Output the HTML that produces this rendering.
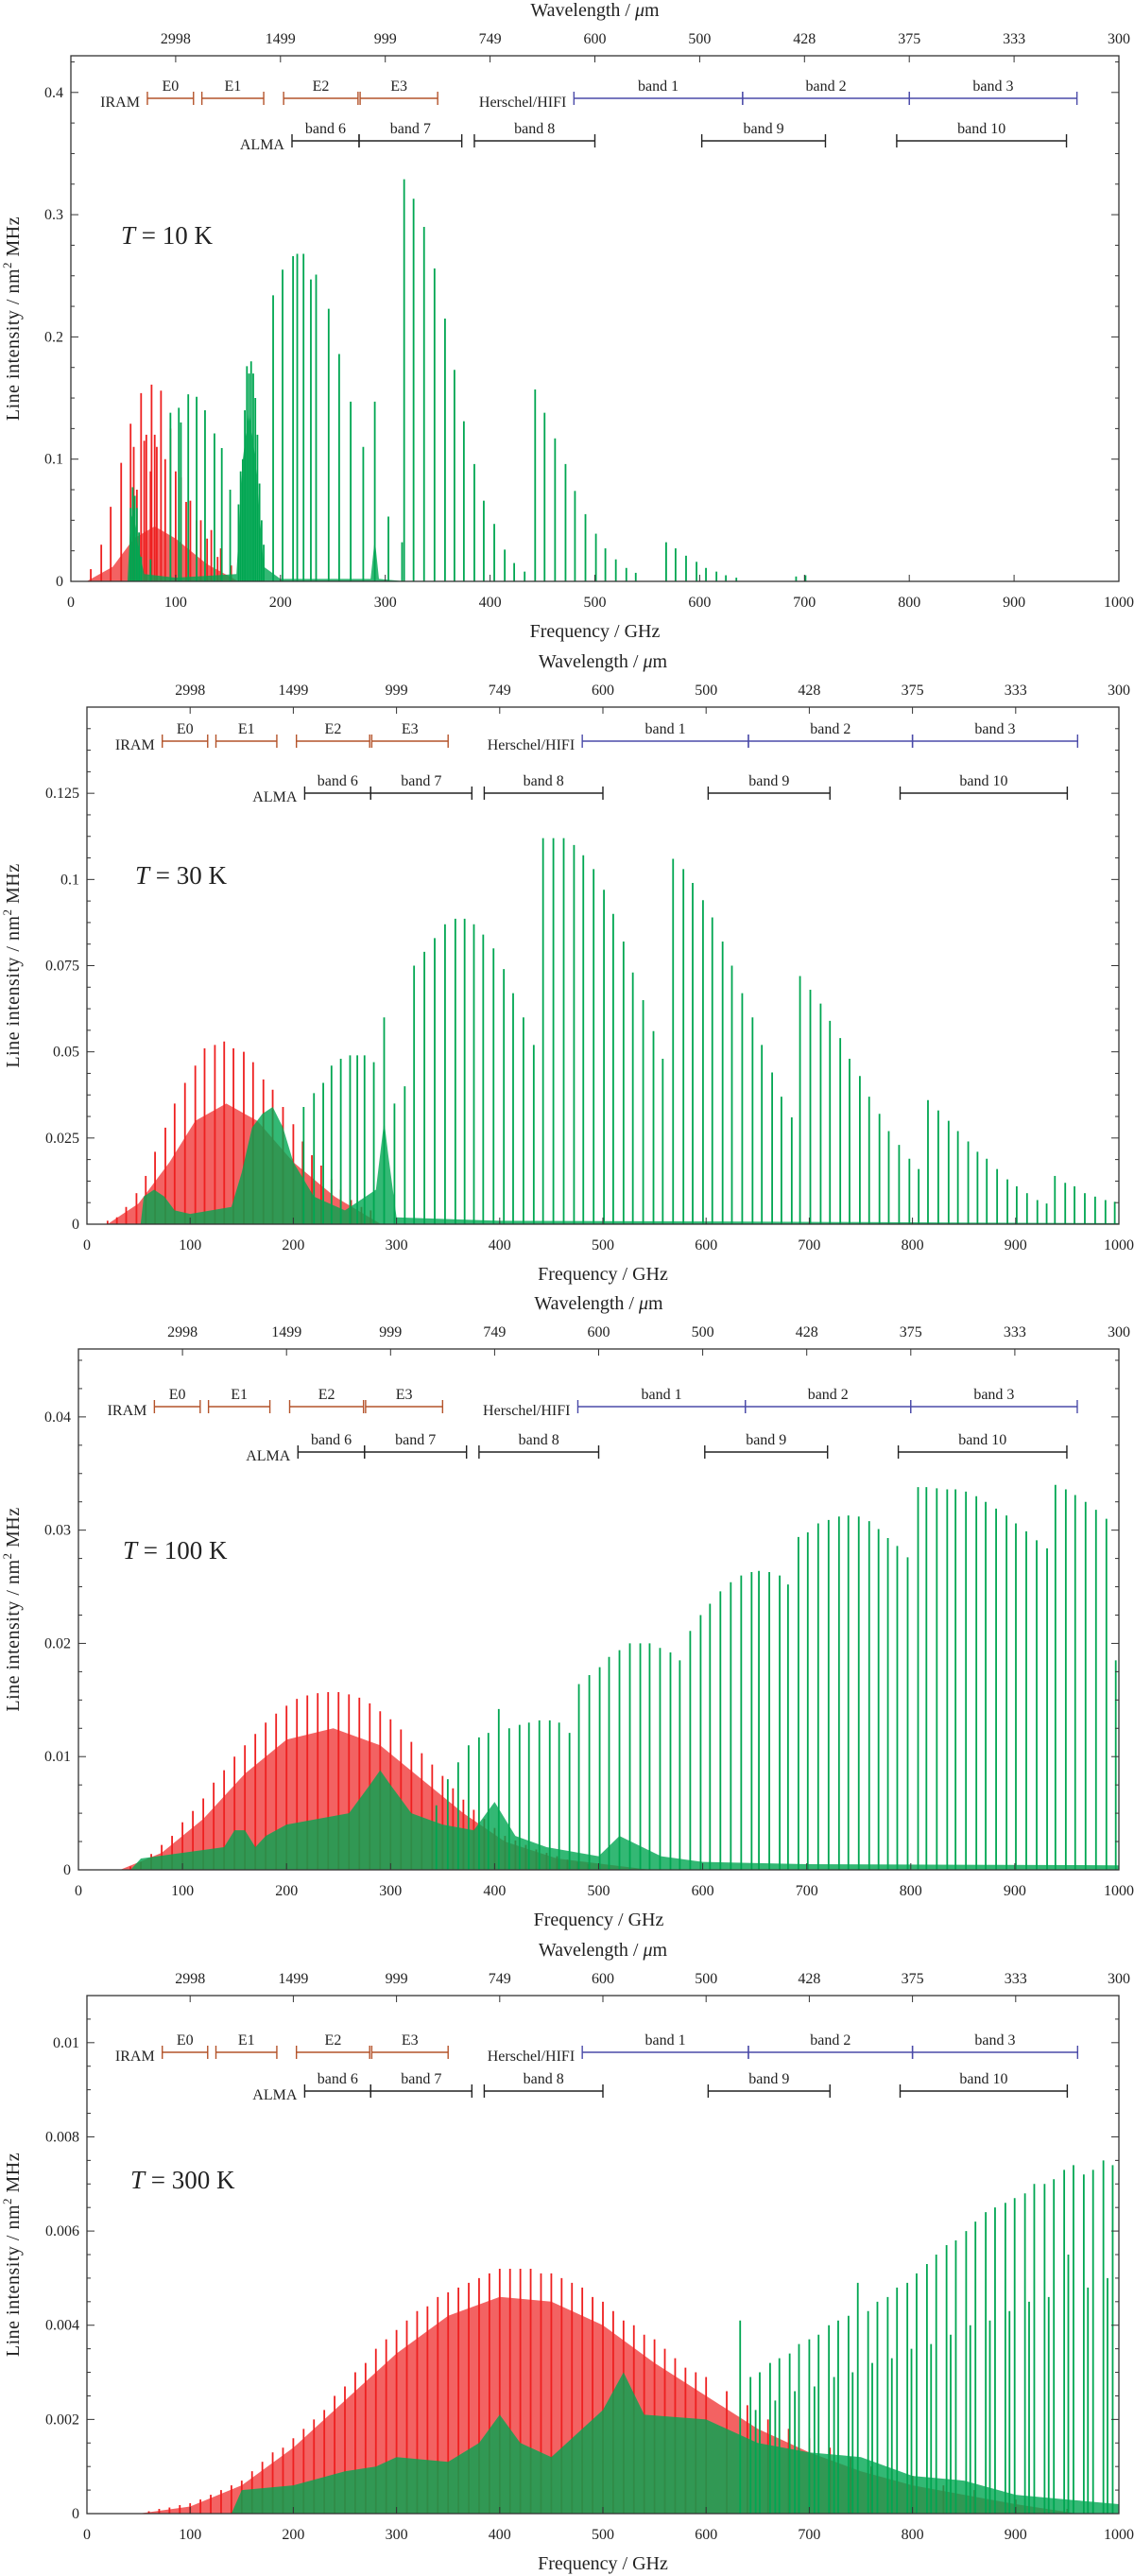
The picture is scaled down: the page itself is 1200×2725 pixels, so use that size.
<!DOCTYPE html>
<html><head><meta charset="utf-8"><title>Line intensity spectra</title>
<style>
html,body{margin:0;padding:0;background:#fff;}
svg{display:block;}
text{font-family:"Liberation Serif",serif;fill:#222;}
</style></head>
<body>
<svg id="chart" xmlns="http://www.w3.org/2000/svg" width="1200" height="2725" viewBox="0 0 1200 2725"></svg>
<script>
// ---------- DATA (frequency GHz, intensity nm^2 MHz) ----------
const freqTicks = [0,100,200,300,400,500,600,700,800,900,1000];
const waveTickFreqs = [100,200,300,400,500,600,700,800,900,1000];
const waveTickLabels = ["2998","1499","999","749","600","500","428","375","333","300"];
const iramBands = [["E0",73,117],["E1",125,184],["E2",203,274],["E3",276,350]];
const hifiBands = [["band 1",480,641],["band 2",641,800],["band 3",800,960]];
const almaBands = [["band 6",211,275],["band 7",275,373],["band 8",385,500],["band 9",602,720],["band 10",788,950]];

// Panel 1 : T = 10 K
const p1Red = [[19,0.010],[29,0.030],[38,0.061],[48,0.097],[57,0.129],[60,0.11],[63,0.075],[67,0.154],[70,0.115],[72,0.12],[76,0.09],[77,0.161],[80,0.12],[82,0.11],[86,0.156],[90,0.10],[95,0.125],[100,0.09],[105,0.085],[110,0.065],[114,0.066],[120,0.05],[124,0.05],[130,0.035],[134,0.042],[140,0.02],[143,0.027],[153,0.013]];
const p1Green = [[57,0.06],[59,0.077],[61,0.07],[63,0.06],[65,0.04],[67,0.02],[76,0.018],[95,0.138],[103,0.142],[105,0.13],[112,0.153],[120,0.151],[128,0.140],[137,0.121],[144,0.109],[152,0.075],[160,0.063],[162,0.09],[164,0.10],[166,0.14],[168,0.176],[170,0.17],[172,0.18],[174,0.17],[176,0.15],[178,0.12],[180,0.08],[182,0.05],[184,0.03],[193,0.234],[202,0.255],[212,0.266],[216,0.268],[222,0.268],[229,0.247],[234,0.251],[246,0.223],[256,0.186],[267,0.147],[279,0.110],[290,0.147],[303,0.053],[316,0.032],[318,0.329],[327,0.313],[337,0.290],[347,0.256],[357,0.215],[366,0.173],[375,0.131],[385,0.096],[394,0.066],[404,0.047],[414,0.026],[423,0.015],[433,0.008],[443,0.157],[452,0.138],[462,0.117],[472,0.096],[481,0.074],[491,0.055],[501,0.039],[510,0.027],[520,0.018],[530,0.011],[539,0.007],[568,0.032],[577,0.027],[587,0.021],[597,0.016],[606,0.011],[616,0.008],[625,0.005],[635,0.003],[692,0.004],[701,0.005]];
const p1RedEnv = [[15,0],[40,0.012],[60,0.035],[80,0.045],[100,0.035],[130,0.014],[160,0]];
const p1GreenEnv = [[54,0],[57,0.05],[60,0.06],[64,0.03],[70,0.006],[100,0.003],[158,0.006],[164,0.10],[170,0.14],[176,0.10],[184,0.012],[200,0.002],[286,0.002],[290,0.035],[294,0.002],[320,0]];

// Panel 2 : T = 30 K
const p2Red = [[20,0.001],[29,0.002],[38,0.005],[48,0.009],[57,0.014],[66,0.021],[76,0.028],[85,0.035],[95,0.041],[105,0.046],[114,0.051],[124,0.052],[133,0.053],[142,0.051],[152,0.050],[161,0.047],[171,0.042],[180,0.039],[190,0.034],[200,0.029],[209,0.024],[218,0.020],[227,0.017],[237,0.013],[246,0.010],[256,0.007],[266,0.005],[275,0.004]];
const p2Green = [[210,0.034],[220,0.038],[229,0.041],[237,0.046],[246,0.048],[255,0.049],[262,0.049],[269,0.049],[278,0.047],[288,0.060],[298,0.035],[308,0.040],[317,0.075],[327,0.079],[337,0.083],[347,0.087],[357,0.0886],[366,0.0886],[375,0.087],[384,0.084],[394,0.080],[404,0.074],[413,0.067],[423,0.060],[433,0.052],[442,0.112],[452,0.112],[462,0.112],[472,0.110],[481,0.107],[491,0.103],[501,0.097],[510,0.090],[520,0.082],[529,0.073],[539,0.065],[549,0.056],[558,0.048],[568,0.106],[578,0.103],[587,0.099],[597,0.094],[606,0.089],[616,0.082],[625,0.075],[635,0.067],[645,0.060],[654,0.052],[664,0.044],[673,0.037],[683,0.031],[691,0.072],[701,0.068],[711,0.064],[720,0.059],[730,0.054],[739,0.048],[749,0.043],[758,0.037],[768,0.032],[777,0.027],[787,0.023],[797,0.019],[806,0.016],[815,0.036],[825,0.033],[835,0.030],[844,0.027],[854,0.024],[863,0.021],[872,0.019],[882,0.016],[892,0.013],[901,0.011],[911,0.009],[921,0.007],[930,0.006],[938,0.014],[948,0.012],[957,0.011],[967,0.009],[977,0.008],[987,0.007],[996,0.0065]];
const p2RedEnv = [[20,0],[50,0.006],[80,0.018],[105,0.03],[135,0.035],[165,0.03],[200,0.018],[240,0.008],[285,0]];
const p2GreenEnv = [[52,0],[55,0.008],[65,0.010],[75,0.008],[85,0.004],[100,0.003],[140,0.005],[150,0.015],[160,0.028],[170,0.032],[180,0.034],[190,0.028],[200,0.018],[220,0.008],[250,0.004],[280,0.01],[288,0.03],[292,0.02],[300,0.002],[400,0.001],[600,0.0008],[1000,0.0003]];

// Panel 3 : T = 100 K
const p3Red = [[50,0.0003],[60,0.0007],[70,0.0014],[80,0.0022],[90,0.003],[100,0.0042],[110,0.0052],[120,0.0063],[130,0.0077],[140,0.0088],[150,0.010],[160,0.011],[170,0.012],[180,0.013],[190,0.0138],[200,0.0145],[210,0.0151],[220,0.0154],[230,0.0156],[240,0.0157],[250,0.0157],[260,0.0155],[270,0.0152],[280,0.0147],[290,0.014],[300,0.0133],[310,0.0124],[320,0.0113],[330,0.0103],[340,0.0093],[350,0.0083],[360,0.0072],[370,0.0062],[380,0.0053],[390,0.0045],[400,0.0037],[410,0.003],[420,0.0026],[430,0.0022],[440,0.0018],[450,0.0015],[460,0.0012],[470,0.0009],[480,0.0007],[490,0.0005],[500,0.0004],[520,0.0002]];
const p3Green = [[344,0.0057],[355,0.008],[365,0.0095],[375,0.011],[385,0.0117],[394,0.0121],[404,0.0142],[414,0.0125],[424,0.0128],[433,0.013],[443,0.0132],[453,0.0132],[462,0.013],[472,0.0121],[481,0.0164],[491,0.0172],[501,0.0179],[510,0.0188],[520,0.0194],[530,0.020],[540,0.020],[549,0.020],[559,0.0196],[569,0.0192],[578,0.0185],[588,0.0211],[598,0.0225],[607,0.0235],[617,0.0246],[627,0.0254],[637,0.026],[647,0.0263],[654,0.0264],[664,0.0263],[674,0.026],[682,0.0252],[692,0.0294],[701,0.0298],[711,0.0306],[721,0.0309],[731,0.0312],[740,0.0313],[750,0.0312],[760,0.0308],[769,0.0301],[778,0.0293],[787,0.0286],[797,0.0276],[807,0.0338],[815,0.0338],[825,0.0337],[835,0.0336],[843,0.0336],[853,0.0334],[863,0.033],[872,0.0325],[882,0.0319],[892,0.0313],[901,0.0306],[911,0.0299],[921,0.0291],[931,0.0284],[939,0.034],[949,0.0336],[958,0.0331],[968,0.0325],[978,0.0318],[988,0.031],[997,0.0185]];
const p3RedEnv = [[40,0],[80,0.0015],[120,0.0045],[160,0.0085],[200,0.0115],[245,0.0125],[290,0.011],[330,0.008],[370,0.005],[410,0.0025],[460,0.001],[550,0]];
const p3GreenEnv = [[50,0],[60,0.001],[100,0.0015],[140,0.002],[150,0.0035],[160,0.0035],[170,0.002],[180,0.003],[200,0.004],[230,0.0045],[260,0.005],[280,0.0075],[290,0.0088],[300,0.0075],[320,0.005],[350,0.004],[380,0.0035],[400,0.006],[420,0.003],[450,0.002],[500,0.0012],[520,0.003],[560,0.0012],[600,0.0007],[700,0.0005],[1000,0.0004]];

// Panel 4 : T = 300 K
const p4Red = [[60,0.00005],[70,0.0001],[80,0.00013],[90,0.00018],[100,0.00022],[110,0.0003],[120,0.0004],[130,0.0005],[140,0.0006],[150,0.0007],[160,0.0009],[170,0.0011],[180,0.0013],[190,0.0014],[200,0.0016],[210,0.0018],[220,0.002],[230,0.0022],[240,0.0025],[250,0.0027],[260,0.003],[270,0.0032],[280,0.0035],[290,0.0037],[300,0.0039],[310,0.0041],[320,0.0043],[330,0.0044],[340,0.0046],[350,0.0047],[360,0.0048],[370,0.0049],[380,0.005],[390,0.0051],[400,0.0052],[410,0.0052],[420,0.0052],[430,0.0052],[440,0.0051],[450,0.0051],[460,0.005],[470,0.0049],[480,0.0048],[490,0.0046],[500,0.0045],[510,0.0043],[520,0.0041],[530,0.004],[540,0.0038],[550,0.0037],[560,0.0035],[570,0.0033],[580,0.0031],[590,0.003],[600,0.0029],[620,0.0026],[640,0.0023],[660,0.002],[680,0.0018],[700,0.0016],[720,0.0014],[740,0.0012],[760,0.001],[780,0.0009],[800,0.0008],[830,0.0006],[860,0.0005],[900,0.0003],[950,0.0001]];
const p4Green = [[633,0.0041],[643,0.0029],[652,0.003],[662,0.0032],[671,0.0033],[681,0.0034],[690,0.0036],[700,0.0037],[709,0.0038],[719,0.004],[728,0.0041],[738,0.0042],[747,0.0049],[757,0.0043],[766,0.0045],[776,0.0046],[785,0.0048],[795,0.0049],[804,0.0051],[814,0.0053],[823,0.0055],[833,0.0057],[842,0.0058],[852,0.006],[861,0.0062],[871,0.0064],[880,0.0065],[890,0.0066],[899,0.0067],[909,0.0068],[918,0.007],[928,0.0070],[937,0.0071],[947,0.0073],[956,0.0074],[966,0.0072],[975,0.0073],[985,0.0075],[994,0.0074]];
const p4GreenB = [[648,0.0022],[667,0.0024],[686,0.0026],[705,0.0027],[724,0.0029],[742,0.003],[761,0.0032],[780,0.0033],[799,0.0035],[818,0.0036],[837,0.0038],[856,0.004],[875,0.0041],[894,0.0043],[913,0.0045],[932,0.0046],[951,0.0055],[970,0.0048],[989,0.005]];
const p4RedEnv = [[50,0],[100,0.00015],[150,0.0006],[200,0.0014],[250,0.0024],[300,0.0034],[350,0.0042],[400,0.0046],[450,0.0045],[500,0.004],[550,0.0032],[600,0.0025],[650,0.0018],[700,0.0013],[750,0.0009],[800,0.0006],[850,0.0004],[900,0.0002],[960,0]];
const p4GreenEnv = [[140,0],[150,0.0005],[200,0.0006],[250,0.0009],[280,0.001],[300,0.0012],[350,0.0011],[380,0.0015],[400,0.0021],[420,0.0015],[450,0.0012],[500,0.0022],[520,0.003],[540,0.0021],[600,0.002],[650,0.0015],[700,0.0013],[750,0.0012],[800,0.0008],[850,0.0007],[900,0.0004],[950,0.0003],[1000,0.0002]];

// ---------- LAYOUT ----------
const panels = [
 {id:"t10", label:"10", left:75, right:1184, top:59, bottom:615, ymax:0.43, yticks:[0,0.1,0.2,0.3,0.4], ylabels:["0","0.1","0.2","0.3","0.4"], iramY:45, almaY:90, tx:128, ty:258, red:p1Red, green:[p1Green], redEnv:p1RedEnv, greenEnv:p1GreenEnv},
 {id:"t30", label:"30", left:92, right:1184, top:748, bottom:1295, ymax:0.15, yticks:[0,0.025,0.05,0.075,0.1,0.125], ylabels:["0","0.025","0.05","0.075","0.1","0.125"], iramY:36, almaY:91, tx:143, ty:935, red:p2Red, green:[p2Green], redEnv:p2RedEnv, greenEnv:p2GreenEnv},
 {id:"t100", label:"100", left:83, right:1184, top:1427, bottom:1978, ymax:0.046, yticks:[0,0.01,0.02,0.03,0.04], ylabels:["0","0.01","0.02","0.03","0.04"], iramY:61, almaY:109, tx:130, ty:1649, red:p3Red, green:[p3Green], redEnv:p3RedEnv, greenEnv:p3GreenEnv},
 {id:"t300", label:"300", left:92, right:1184, top:2111, bottom:2659, ymax:0.011, yticks:[0,0.002,0.004,0.006,0.008,0.01], ylabels:["0","0.002","0.004","0.006","0.008","0.01"], iramY:60, almaY:101, tx:138, ty:2315, red:p4Red, green:[p4Green,p4GreenB], redEnv:p4RedEnv, greenEnv:p4GreenEnv}
];

const NS = "http://www.w3.org/2000/svg";
const svg = document.getElementById("chart");
function mk(tag, attrs, parent, txt){
  const e = document.createElementNS(NS, tag);
  for (const k in attrs) e.setAttribute(k, attrs[k]);
  if (txt !== undefined) e.textContent = txt;
  parent.appendChild(e);
  return e;
}
const RED = "#ee2020", GREEN = "#00a651";

panels.forEach(function(p){
  const g = mk("g", {}, svg);
  
  
  const xS = f => p.left + (f/1000)*(p.right-p.left);
  const yS = v => p.bottom - (v/p.ymax)*(p.bottom-p.top);
  const cx = (p.left+p.right)/2, cy = (p.top+p.bottom)/2;

  function envPath(env, color, op, name){
    let d = "M" + xS(env[0][0]).toFixed(1) + "," + p.bottom;
    env.forEach(pt => { d += " L" + xS(pt[0]).toFixed(1) + "," + yS(pt[1]).toFixed(1); });
    d += " L" + xS(env[env.length-1][0]).toFixed(1) + "," + p.bottom + " Z";
    const e = mk("path", {d:d, fill:color, "fill-opacity":op, stroke:"none"}, g);
    
    
  }
  envPath(p.redEnv, RED, 0.7, 'red-weak-line-forest');

  const rg = mk("g", {stroke:RED, "stroke-width":1.8}, g);
  
  
  p.red.forEach(function(pt){
    const l = mk("line", {x1:xS(pt[0]), x2:xS(pt[0]), y1:p.bottom, y2:yS(pt[1])}, rg);
    
    
  });
  envPath(p.greenEnv, GREEN, 0.8, 'green-weak-line-forest');
  const gg = mk("g", {stroke:GREEN, "stroke-width":1.8}, g);
  
  
  p.green.forEach(function(arr){
    arr.forEach(function(pt){
      const l = mk("line", {x1:xS(pt[0]), x2:xS(pt[0]), y1:p.bottom, y2:yS(pt[1])}, gg);
      
      
    });
  });

  const fr = mk("rect", {x:p.left, y:p.top, width:p.right-p.left, height:p.bottom-p.top, fill:"none", stroke:"#333", "stroke-width":1.3}, g);
  
  

  freqTicks.forEach(function(f){
    const x = xS(f);
    mk("line", {x1:x, x2:x, y1:p.bottom, y2:p.bottom-7, stroke:"#333", "stroke-width":1}, g);
    const t = mk("text", {x:x, y:p.bottom+27, "text-anchor":"middle", "font-size":16}, g, String(f));
    
    
  });
  waveTickFreqs.forEach(function(f, i){
    const x = xS(f);
    mk("line", {x1:x, x2:x, y1:p.top, y2:p.top+7, stroke:"#333", "stroke-width":1}, g);
    const t = mk("text", {x:x, y:p.top-13, "text-anchor":"middle", "font-size":16}, g, waveTickLabels[i]);
    
    
  });
  const step = p.yticks[1];
  for (let v = 0; v <= p.ymax + 1e-12; v += step/4) {
    const y = yS(v);
    const major = Math.abs(v/step - Math.round(v/step)) < 1e-6;
    const len = major ? 8 : 4;
    mk("line", {x1:p.left, x2:p.left+len, y1:y, y2:y, stroke:"#333", "stroke-width":1}, g);
    mk("line", {x1:p.right, x2:p.right-len, y1:y, y2:y, stroke:"#333", "stroke-width":1}, g);
  }
  p.yticks.forEach(function(v, i){
    const t = mk("text", {x:p.left-8, y:yS(v)+5, "text-anchor":"end", "font-size":16}, g, p.ylabels[i]);
    
    
  });
  let t = mk("text", {x:cx, y:p.bottom+59, "text-anchor":"middle", "font-size":20}, g, "Frequency / GHz");
  
  
  t = mk("text", {x:cx, y:p.top-42, "text-anchor":"middle", "font-size":20}, g);
  
  
  mk("tspan", {}, t, "Wavelength / ");
  mk("tspan", {"font-style":"italic"}, t, "μ");
  mk("tspan", {}, t, "m");
  t = mk("text", {x:0, y:0, "text-anchor":"middle", "font-size":20, transform:"translate(20," + cy + ") rotate(-90)", "letter-spacing":"0.5"}, g);
  
  
  mk("tspan", {}, t, "Line intensity / nm");
  mk("tspan", {"font-size":13, dy:-8}, t, "2");
  mk("tspan", {dy:8}, t, " MHz");
  t = mk("text", {x:p.tx, y:p.ty, "font-size":27}, g);
  
  
  mk("tspan", {"font-style":"italic"}, t, "T");
  mk("tspan", {}, t, " = " + p.label + " K");

  function bands(list, yOff, color, name, groupLabel, labelFreq){
    const y = p.top + yOff;
    const bg = mk("g", {}, g);
    
    
    list.forEach(function(b){
      const x1 = xS(b[1]), x2 = xS(b[2]);
      mk("line", {x1:x1, x2:x2, y1:y, y2:y, stroke:color, "stroke-width":1.4}, bg);
      mk("line", {x1:x1, x2:x1, y1:y-7, y2:y+7, stroke:color, "stroke-width":1.4}, bg);
      mk("line", {x1:x2, x2:x2, y1:y-7, y2:y+7, stroke:color, "stroke-width":1.4}, bg);
      const lt = mk("text", {x:(x1+x2)/2, y:y-8, "text-anchor":"middle", "font-size":16}, bg, b[0]);
      
      
    });
    const gl = mk("text", {x:xS(labelFreq)-8, y:y+9, "text-anchor":"end", "font-size":16}, bg, groupLabel);
    
    
  }
  bands(iramBands, p.iramY, "#b4532a", "iram-bands", "IRAM", 73);
  bands(hifiBands, p.iramY, "#4a4aa8", "herschel-hifi-bands", "Herschel/HIFI", 480);
  bands(almaBands, p.almaY, "#222", "alma-bands", "ALMA", 211);
});
</script>
</body></html>
